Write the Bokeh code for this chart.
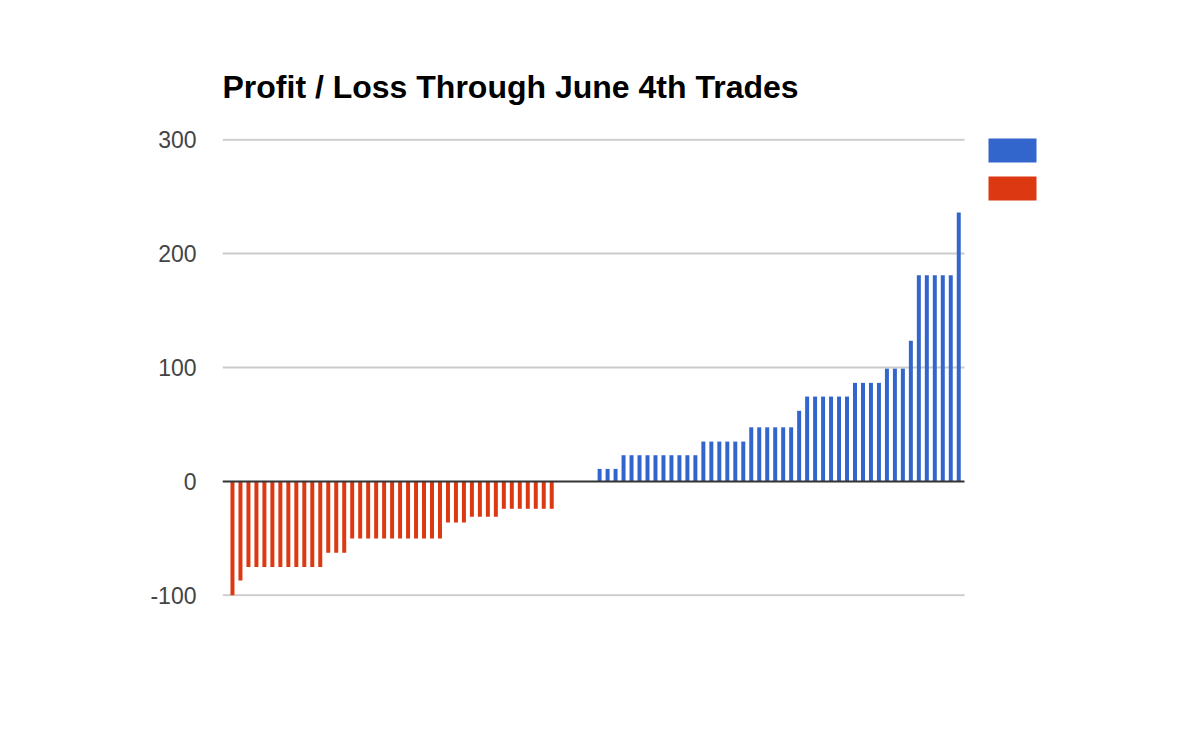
from bokeh.plotting import figure
from bokeh.models import (Range1d, Legend, LegendItem, ColumnDataSource,
                          FixedTicker, PrintfTickFormatter)
from bokeh.embed import file_html
from bokeh.resources import INLINE

# ---- data (profit / loss per trade, sorted) ----
losses = [-100, -87,
          -75, -75, -75, -75, -75, -75, -75, -75, -75, -75,
          -62.5, -62.5, -62.5,
          -50, -50, -50, -50, -50, -50, -50, -50, -50, -50, -50, -50,
          -36, -36, -36,
          -31, -31, -31, -31,
          -24, -24, -24, -24, -24, -24, -24]
flat = [0, 0, 0, 0, 0]
gains = [11, 11, 11,
         23, 23, 23, 23, 23, 23, 23, 23, 23, 23,
         35, 35, 35, 35, 35, 35,
         47.5, 47.5, 47.5, 47.5, 47.5, 47.5,
         62,
         74.5, 74.5, 74.5, 74.5, 74.5, 74.5,
         86.5, 86.5, 86.5, 86.5,
         99, 99, 99,
         123.5,
         181, 181, 181, 181, 181,
         236]
y_ticks = [-100, 0, 100, 200, 300]
title_text = "Profit / Loss Through June 4th Trades"

BLUE = "#3366CC"
RED = "#DC3912"

n_loss = len(losses)
n_flat = len(flat)
n_total = n_loss + n_flat + len(gains)

loss_src = ColumnDataSource(dict(x=list(range(n_loss)), top=losses))
gain_src = ColumnDataSource(dict(x=list(range(n_loss + n_flat, n_total)), top=gains))

# chart area (where grid lines run) and a wider frame that also holds the legend
x_lo = -1.25
x_hi = n_total - 1 + 0.72
chart_px = 742.0
frame_px = 878.0
x_view_end = x_lo + (x_hi - x_lo) * frame_px / chart_px

p = figure(width=1174, height=716, output_backend="svg", toolbar_location=None,
           x_range=Range1d(x_lo, x_view_end),
           y_range=Range1d(-101, 301),
           min_border_left=222, min_border_right=74,
           min_border_top=138, min_border_bottom=120,
           title=title_text)

p.outline_line_color = None
p.background_fill_color = "white"
p.border_fill_color = "white"

p.title.text_font = "Liberation Sans"
p.title.text_font_style = "bold"
p.title.text_font_size = "32px"
p.title.text_color = "#000000"
p.title.align = "left"
p.title.standoff = 68

# horizontal grid lines limited to the chart area
grid_ticks = [t for t in y_ticks if t != 0]
grid_src = ColumnDataSource(dict(y=grid_ticks,
                                 x0=[x_lo] * len(grid_ticks),
                                 x1=[x_hi] * len(grid_ticks)))
p.segment(x0="x0", x1="x1", y0="y", y1="y", source=grid_src,
          line_color="#cccccc", line_width=2)

r_loss = p.vbar(x="x", top="top", bottom=0, width=0.5, source=loss_src,
                fill_color=RED, line_color=None)
r_gain = p.vbar(x="x", top="top", bottom=0, width=0.5, source=gain_src,
                fill_color=BLUE, line_color=None)

# baseline at zero
base_src = ColumnDataSource(dict(y=[0], x0=[x_lo], x1=[x_hi]))
p.segment(x0="x0", x1="x1", y0="y", y1="y", source=base_src,
          line_color="#333333", line_width=2)

p.xaxis.visible = False
p.grid.visible = False

p.yaxis.ticker = FixedTicker(ticks=y_ticks)
p.yaxis.formatter = PrintfTickFormatter(format="%d")
p.yaxis.axis_line_color = None
p.yaxis.major_tick_line_color = None
p.yaxis.minor_tick_line_color = None
p.yaxis.major_label_standoff = 20
p.yaxis.major_label_text_font = "Liberation Sans"
p.yaxis.major_label_text_font_size = "23px"
p.yaxis.major_label_text_color = "#444444"

# legend: colour swatches only (series are unnamed)
legend = Legend(items=[LegendItem(label=" ", renderers=[r_gain]),
                       LegendItem(label=" ", renderers=[r_loss])],
                location=(760, 393), orientation="vertical",
                glyph_width=60, glyph_height=30, spacing=8,
                padding=0, margin=0, label_standoff=0,
                label_text_font_size="10px",
                border_line_color=None, background_fill_alpha=0)
p.add_layout(legend, "center")

open("out.html", "w").write(file_html(p, INLINE))
